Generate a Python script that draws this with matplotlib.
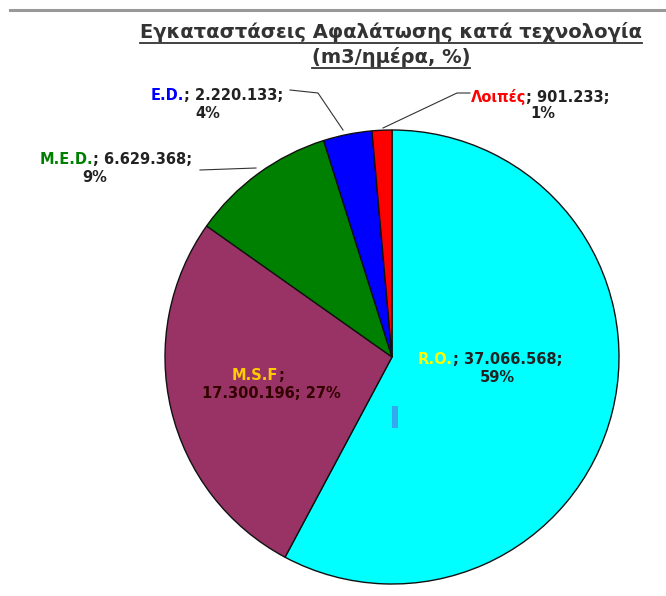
import matplotlib
matplotlib.use("Agg")
import matplotlib.pyplot as plt
from matplotlib.lines import Line2D
from matplotlib.patches import Rectangle

# data
categories = ["R.O.", "M.S.F", "M.E.D.", "E.D.", "Λοιπές"]
values = [37066568, 17300196, 6629368, 2220133, 901233]
value_labels = ["37.066.568", "17.300.196", "6.629.368", "2.220.133", "901.233"]
pct_labels = ["59%", "27%", "9%", "4%", "1%"]
colors = ["#00FFFF", "#993366", "#008000", "#0000FF", "#FF0000"]
name_colors = ["#FFFF00", "#FFCC00", "#008000", "#0000FF", "#FF0000"]
title_lines = ["Εγκαταστάσεις Αφαλάτωσης κατά τεχνολογία", "(m3/ημέρα, %)"]

W, H = 666, 596
fig = plt.figure(figsize=(W / 100, H / 100), dpi=100)


def fx(x):
    return x / W


def fy(y):
    return 1 - y / H


# pie
cx, cy, r = 392, 357, 227
ax = fig.add_axes([fx(cx - r), fy(cy + r), 2 * r / W, 2 * r / H])
wedges, _ = ax.pie(values, colors=colors, startangle=90, counterclock=False,
                   wedgeprops=dict(edgecolor="#111111", linewidth=1.0))
ax.set_xlim(-1, 1)
ax.set_ylim(-1, 1)
ax.set_aspect("equal")

# top rule
fig.add_artist(Line2D([fx(10), fx(666)], [fy(10), fy(10)], color="#999999", lw=2.2))

FS = 10.5
dark = "#222222"


def label(x1, y1, name, color, rest, x2, y2, line2, body=dark):
    # two coloured pieces on the first line, centred on x1
    t1 = fig.text(0, 0, name, color=color, fontsize=FS, fontweight="bold")
    t2 = fig.text(0, 0, rest, color=body, fontsize=FS, fontweight="bold")
    fig.canvas.draw()
    r = fig.canvas.get_renderer()
    w1 = t1.get_window_extent(r).width
    w2 = t2.get_window_extent(r).width
    left = x1 - (w1 + w2) / 2
    t1.set_position((fx(left), fy(y1)))
    t1.set_va("center")
    t2.set_position((fx(left + w1), fy(y1)))
    t2.set_va("center")
    fig.text(fx(x2), fy(y2), line2, color=body, fontsize=FS, fontweight="bold",
             ha="center", va="center")


label(490, 360, categories[0], name_colors[0], "; " + value_labels[0] + ";",
      497, 378, pct_labels[0])
label(258, 375, categories[1], name_colors[1], ";",
      271, 393, value_labels[1] + "; " + pct_labels[1], body="#330000")
label(116, 159, categories[2], name_colors[2], "; " + value_labels[2] + ";",
      95, 177, pct_labels[2])
label(217, 95, categories[3], name_colors[3], "; " + value_labels[3] + ";",
      208, 113, pct_labels[3])
label(540, 97, categories[4], name_colors[4], "; " + value_labels[4] + ";",
      543, 114, pct_labels[4])

# leader lines
for xs, ys in [([200, 256], [170, 168]),
               ([290, 318, 343], [90, 93, 130]),
               ([470, 457, 383], [93, 93, 128])]:
    fig.add_artist(Line2D([fx(v) for v in xs], [fy(v) for v in ys], color="#333333", lw=0.8))

# small stray marker in the R.O. slice
fig.add_artist(Rectangle((fx(392), fy(428)), 6 / W, 22 / H, transform=fig.transFigure,
                         facecolor="#33AAEE", edgecolor="none"))

# underlined title
fig.canvas.draw()
rend = fig.canvas.get_renderer()
for i, line in enumerate(title_lines):
    yy = 32 + i * 25
    t = fig.text(fx(391), fy(yy), line, fontsize=14, fontweight="bold",
                 ha="center", va="center", color="#333333")
    fig.canvas.draw()
    bb = t.get_window_extent(rend)
    fig.add_artist(Line2D([bb.x0 / W, bb.x1 / W], [(bb.y0 - 1) / H] * 2,
                          color="#333333", lw=1.3))

fig.savefig("out.png", dpi=100)
